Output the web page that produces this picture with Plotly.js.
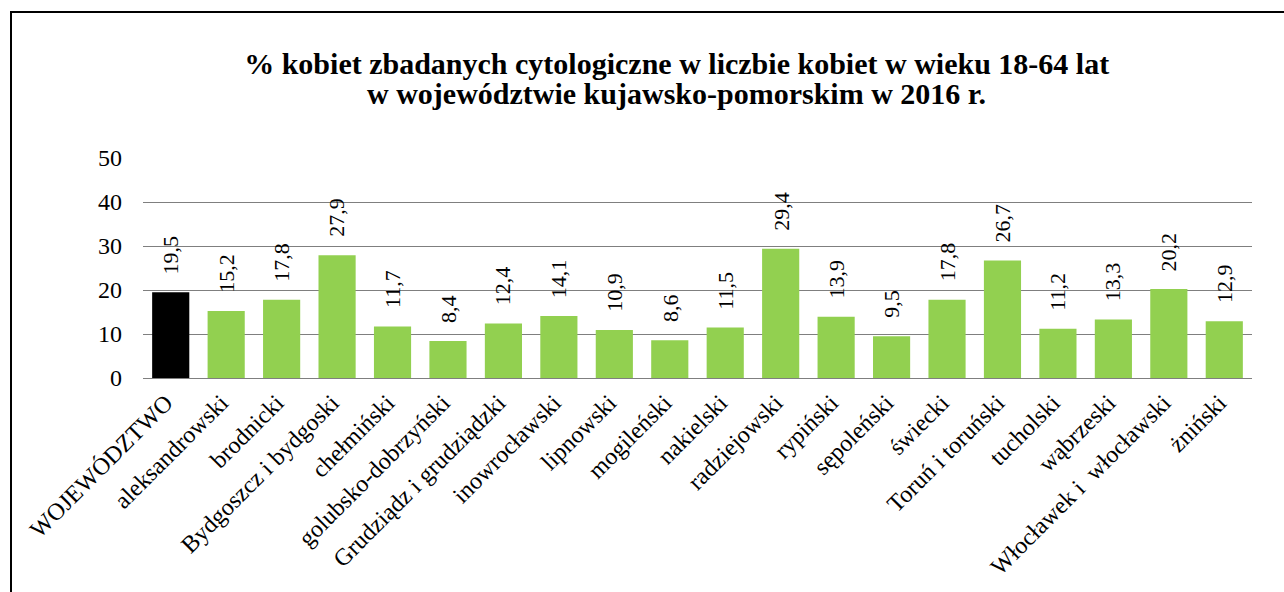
<!DOCTYPE html>
<html>
<head>
<meta charset="utf-8">
<script src="https://cdn.plot.ly/plotly-3.0.1.min.js"></script>
<style>
html,body{margin:0;padding:0;background:#fff;}
#wrap{position:relative;width:1284px;height:592px;overflow:hidden;}
#chart{width:1284px;height:592px;}
#frame{position:absolute;left:10px;top:11px;width:1300px;height:700px;border-left:2px solid #000;border-top:2px solid #000;pointer-events:none;}
</style>
</head>
<body>
<div id="wrap"><div id="chart"></div><div id="frame"></div></div>
<script>
var categories = ["WOJEWÓDZTWO","aleksandrowski","brodnicki","Bydgoszcz i bydgoski","chełmiński","golubsko-dobrzyński","Grudziądz i grudziądzki","inowrocławski","lipnowski","mogileński","nakielski","radziejowski","rypiński","sępoleński","świecki","Toruń i toruński","tucholski","wąbrzeski","Włocławek i  włocławski","żniński"];
var values = [19.5,15.2,17.8,27.9,11.7,8.4,12.4,14.1,10.9,8.6,11.5,29.4,13.9,9.5,17.8,26.7,11.2,13.3,20.2,12.9];
var yTicks = [0,10,20,30,40,50];
var titleLine1 = "% kobiet zbadanych cytologiczne w liczbie kobiet w wieku 18-64 lat";
var titleLine2 = "w województwie kujawsko-pomorskim w 2016 r.";

var colors = categories.map(function(c,i){ return i===0 ? "#000000" : "#92D050"; });
var font = "Liberation Serif";
var idx = categories.map(function(c,i){return i;});

var trace = {
  type: "bar",
  x: idx,
  y: values,
  marker: {color: colors},
  hoverinfo: "none"
};

var annotations = values.map(function(v,i){
  return {x: idx[i], y: v, xref: "x", yref: "y",
          text: v.toFixed(1).replace(".", ","), showarrow: false,
          textangle: -90, xanchor: "center", yanchor: "bottom", yshift: 16,
          font: {family: font, size: 22, color: "#000"}};
});
annotations.push({
  text: "<b>" + titleLine2 + "</b>", showarrow: false,
  xref: "paper", yref: "paper", x: 0.4815, y: 1.208, xanchor: "center", yanchor: "bottom",
  font: {family: font, size: 30, color: "#000"}
});

var layout = {
  width: 1284, height: 592,
  margin: {l: 143, r: 32, t: 158, b: 214},
  paper_bgcolor: "#fff", plot_bgcolor: "#fff",
  showlegend: false,
  bargap: 0.33,
  separators: ", ",
  font: {family: font, color: "#000"},
  title: {text: "<b>" + titleLine1 + "</b>", font: {family: font, size: 30, color: "#000"},
          x: 0.527, xref: "container", xanchor: "center", y: 1 - 74/592, yref: "container", yanchor: "bottom"},
  annotations: annotations,
  xaxis: {
    tickmode: "array",
    tickvals: idx,
    ticktext: categories,
    tickangle: -45,
    tickfont: {family: font, size: 24, color: "#000"},
    ticklabelstandoff: 5, ticklabelshift: -5,
    showgrid: false, zeroline: false, showline: false, ticks: "",
    range: [-0.5, categories.length - 0.5]
  },
  yaxis: {
    range: [0, 50],
    tickvals: yTicks,
    tickfont: {family: font, size: 24, color: "#000"},
    ticklabelstandoff: 20,
    showgrid: true, gridcolor: "#7f7f7f", gridwidth: 1,
    zeroline: true, zerolinecolor: "#7f7f7f", zerolinewidth: 1,
    showline: false, ticks: "", automargin: false
  }
};

Plotly.newPlot("chart", [trace], layout, {displayModeBar: false, staticPlot: true});
</script>
</body>
</html>
